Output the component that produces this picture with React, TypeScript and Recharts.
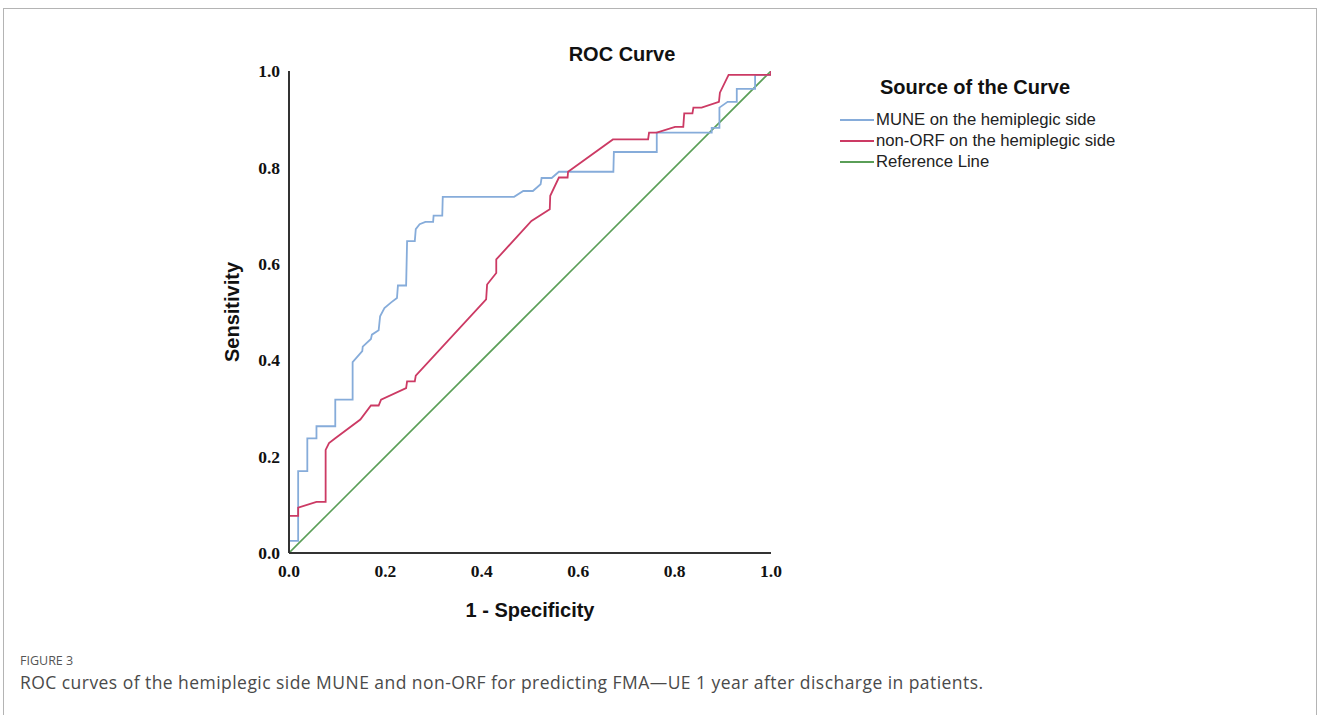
import React from 'react';
import { LineChart, Line, XAxis, YAxis } from 'recharts';

// MUNE on the hemiplegic side: 1 - specificity (x) and sensitivity (y)
const muneFpr = [0, 0, 0.019, 0.019, 0.038, 0.038, 0.057, 0.057, 0.096, 0.096, 0.132, 0.132, 0.152, 0.153, 0.17, 0.172, 0.186, 0.189, 0.198, 0.212, 0.224, 0.226, 0.243, 0.245, 0.261, 0.263, 0.271, 0.283, 0.299, 0.3, 0.318, 0.319, 0.467, 0.486, 0.506, 0.522, 0.524, 0.545, 0.56, 0.673, 0.674, 0.763, 0.763, 0.877, 0.877, 0.893, 0.893, 0.91, 0.929, 0.929, 0.967, 0.967, 1.0, 1.0];
const muneTpr = [0, 0.025, 0.025, 0.17, 0.17, 0.238, 0.238, 0.263, 0.263, 0.318, 0.318, 0.396, 0.419, 0.428, 0.444, 0.453, 0.462, 0.491, 0.508, 0.52, 0.529, 0.555, 0.555, 0.647, 0.647, 0.672, 0.682, 0.687, 0.687, 0.7, 0.7, 0.739, 0.739, 0.751, 0.751, 0.765, 0.778, 0.778, 0.791, 0.791, 0.832, 0.832, 0.872, 0.872, 0.882, 0.882, 0.924, 0.936, 0.936, 0.963, 0.963, 0.992, 0.992, 1.0];

// non-ORF on the hemiplegic side
const orfFpr = [0, 0, 0.019, 0.019, 0.057, 0.076, 0.076, 0.083, 0.096, 0.148, 0.17, 0.186, 0.191, 0.243, 0.245, 0.261, 0.263, 0.409, 0.411, 0.43, 0.43, 0.503, 0.541, 0.542, 0.56, 0.578, 0.579, 0.672, 0.745, 0.747, 0.763, 0.801, 0.818, 0.82, 0.837, 0.839, 0.856, 0.892, 0.894, 0.912, 1.0, 1.0];
const orfTpr = [0, 0.077, 0.077, 0.094, 0.106, 0.106, 0.214, 0.228, 0.238, 0.277, 0.306, 0.306, 0.318, 0.342, 0.356, 0.356, 0.368, 0.526, 0.557, 0.581, 0.609, 0.689, 0.713, 0.741, 0.779, 0.779, 0.791, 0.858, 0.858, 0.872, 0.872, 0.884, 0.884, 0.912, 0.912, 0.924, 0.924, 0.936, 0.955, 0.992, 0.992, 1.0];

// Reference line
const refFpr = [0, 1];
const refTpr = [0, 1];

const axisTicks = [0, 0.2, 0.4, 0.6, 0.8, 1.0];
const seriesNames = ['MUNE on the hemiplegic side', 'non-ORF on the hemiplegic side', 'Reference Line'];
const seriesColors = ['#86ACDA', '#CC3A64', '#5A9E57'];

const toPoints = (xs: number[], ys: number[]) => xs.map((x, i) => ({ x, y: ys[i] }));
const muneData = toPoints(muneFpr, muneTpr);
const orfData = toPoints(orfFpr, orfTpr);
const refData = toPoints(refFpr, refTpr);

const sans = '"Liberation Sans", Arial, sans-serif';
const serif = '"Liberation Serif", "Times New Roman", serif';

export default function App() {
  return (
    <div style={{ position: 'absolute', left: 0, top: 0, width: 1319, height: 715, background: '#fff', overflow: 'hidden' }}>
      <div style={{ position: 'absolute', left: 3, top: 8, width: 1312, height: 720, borderTop: '1px solid #b4b4b4', borderLeft: '1px solid #b4b4b4', borderRight: '1px solid #b4b4b4' }} />
      <div style={{ position: 'absolute', left: 0, top: 0 }}>
        <LineChart width={1319} height={715} margin={{ top: 71, right: 548, bottom: 122, left: 229 }}>
          <XAxis
            dataKey="x"
            type="number"
            domain={[0, 1]}
            ticks={axisTicks}
            tickFormatter={(v: number) => v.toFixed(1)}
            height={40}
            axisLine={{ stroke: '#333', strokeWidth: 2 }}
            tickLine={false}
            tickSize={0}
            tickMargin={12}
            tick={{ fill: '#111', fontFamily: serif, fontWeight: 'bold', fontSize: 17.5 }}
            allowDataOverflow
          />
          <YAxis
            dataKey="y"
            type="number"
            domain={[0, 1]}
            ticks={axisTicks}
            tickFormatter={(v: number) => v.toFixed(1)}
            width={60}
            axisLine={{ stroke: '#333', strokeWidth: 2 }}
            tickLine={false}
            tickSize={0}
            tickMargin={9}
            tick={{ fill: '#111', fontFamily: serif, fontWeight: 'bold', fontSize: 17.5 }}
            allowDataOverflow
          />
          <Line data={refData} dataKey="y" type="linear" stroke={seriesColors[2]} strokeWidth={1.6} dot={false} activeDot={false} isAnimationActive={false} />
          <Line data={muneData} dataKey="y" type="linear" stroke={seriesColors[0]} strokeWidth={1.8} dot={false} activeDot={false} isAnimationActive={false} />
          <Line data={orfData} dataKey="y" type="linear" stroke={seriesColors[1]} strokeWidth={1.8} dot={false} activeDot={false} isAnimationActive={false} />
        </LineChart>
      </div>

      <div style={{ position: 'absolute', left: 522, width: 200, top: 41, lineHeight: '26px', textAlign: 'center', fontFamily: sans, fontWeight: 'bold', fontSize: 20, color: '#111' }}>ROC Curve</div>

      <div style={{ position: 'absolute', left: 232 - 100, top: 312 - 13, width: 200, lineHeight: '26px', textAlign: 'center', fontFamily: sans, fontWeight: 'bold', fontSize: 20, color: '#111', transform: 'rotate(-90deg)' }}>Sensitivity</div>
      <div style={{ position: 'absolute', left: 430, width: 200, top: 597, lineHeight: '26px', textAlign: 'center', fontFamily: sans, fontWeight: 'bold', fontSize: 20, color: '#111' }}>1 - Specificity</div>

      <div style={{ position: 'absolute', left: 880, top: 74, lineHeight: '26px', fontFamily: sans, fontWeight: 'bold', fontSize: 20, color: '#111', whiteSpace: 'nowrap' }}>Source of the Curve</div>
      {seriesNames.map((name, i) => (
        <div key={name} style={{ position: 'absolute', left: 840, top: 110 + i * 21, height: 20, display: 'flex', alignItems: 'center', whiteSpace: 'nowrap' }}>
          <div style={{ width: 34, height: 2, background: seriesColors[i], marginRight: 2 }} />
          <span style={{ fontFamily: sans, fontSize: 16.7, color: '#222' }}>{name}</span>
        </div>
      ))}

      <div style={{ position: 'absolute', left: 20, top: 652, lineHeight: '18px', fontFamily: '"Open Sans", sans-serif', fontSize: 12.5, color: '#555', whiteSpace: 'nowrap' }}>FIGURE 3</div>
      <div style={{ position: 'absolute', left: 20, top: 671, lineHeight: '22px', fontFamily: '"Open Sans", sans-serif', fontSize: 17.5, letterSpacing: 0.45, color: '#4a4a4a', whiteSpace: 'nowrap' }}>ROC curves of the hemiplegic side MUNE and non-ORF for predicting FMA—UE 1 year after discharge in patients.</div>
    </div>
  );
}
